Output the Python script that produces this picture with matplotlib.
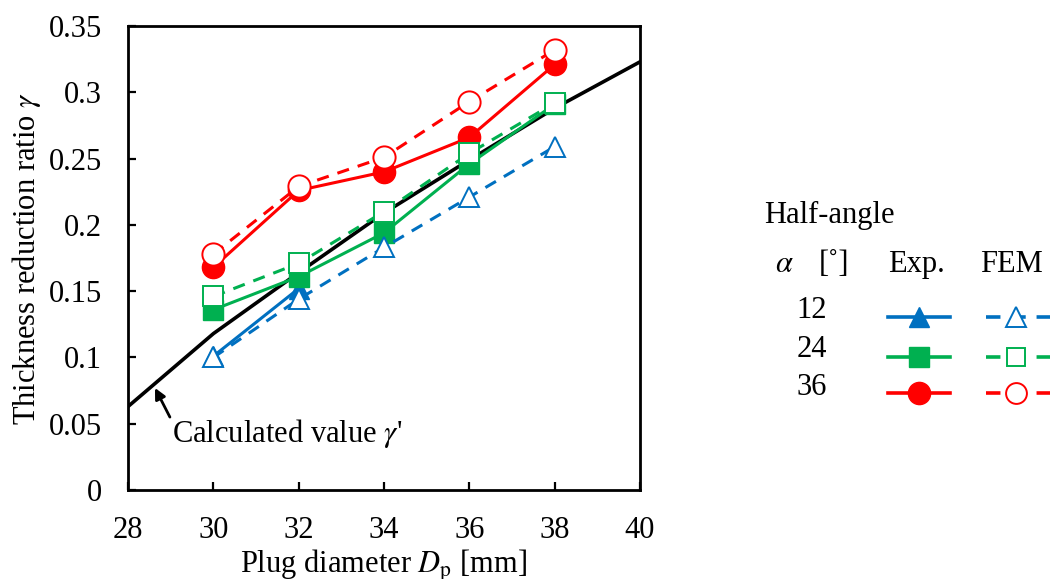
import numpy as np
import matplotlib
import matplotlib.pyplot as plt
from matplotlib.lines import Line2D

matplotlib.use('Agg')

plt.rcParams['font.family'] = ['Liberation Serif', 'DejaVu Serif']
plt.rcParams['mathtext.fontset'] = 'stix'

# plug diameter [mm]
dp = [30, 32, 34, 36, 38]

# experiment
exp_12 = [0.101, 0.152, np.nan, np.nan, np.nan]
exp_24 = [0.136, 0.161, 0.194, 0.246, 0.291]
exp_36 = [0.168, 0.226, 0.240, 0.266, 0.321]

# FEM
fem_12 = [0.100, 0.144, 0.183, 0.221, 0.259]
fem_24 = [0.146, 0.171, 0.210, 0.254, 0.292]
fem_36 = [0.178, 0.229, 0.251, 0.293, 0.332]

# calculated value gamma'
calc_dp = [28, 30, 32, 34, 36, 38, 40]
calc_g = [0.063, 0.118, 0.164, 0.209, 0.249, 0.288, 0.323]

BLUE = '#0070C0'
GREEN = '#00B050'
RED = '#FF0000'
FS = 22

fig = plt.figure(figsize=(10.5, 5.79), dpi=100)
ax = fig.add_axes([0.122, 0.1537, 0.4875, 0.8013])

ax.plot(calc_dp, calc_g, color='black', lw=2.6, zorder=2)

series = [
    (exp_12, fem_12, BLUE, '^', 15),
    (exp_24, fem_24, GREEN, 's', 14),
    (exp_36, fem_36, RED, 'o', 16),
]
for exp, fem, col, mk, ms in series:
    ax.plot(dp, exp, color=col, lw=2.2, marker=mk, ms=ms, mfc=col, mec=col, zorder=3)
    ax.plot(dp, fem, color=col, lw=2.2, ls=(0, (4, 3)), marker=mk, ms=ms,
            mfc='white', mec=col, mew=1.4, zorder=4)

ax.set_xlim(28, 40)
ax.set_ylim(0, 0.35)
ax.set_xticks([28, 30, 32, 34, 36, 38, 40])
ax.set_yticks([0, 0.05, 0.1, 0.15, 0.2, 0.25, 0.3, 0.35])
ax.set_yticklabels(['0', '0.05', '0.1', '0.15', '0.2', '0.25', '0.3', '0.35'])
ax.tick_params(direction='in', length=6, width=1.6, labelsize=FS, pad=19)
for s in ax.spines.values():
    s.set_linewidth(2.0)

ax.set_xlabel(r'Plug diameter $D_\mathrm{p}$ [mm]', fontsize=FS, labelpad=2)
ax.set_ylabel(r'Thickness reduction ratio $\gamma$', fontsize=FS, labelpad=4)

ax.annotate('', xy=(28.63, 0.077), xytext=(28.98, 0.055),
            arrowprops=dict(arrowstyle='-|>', color='black', lw=2.0,
                            mutation_scale=16, shrinkA=0, shrinkB=0))
ax.text(29.03, 0.036, r"Calculated value $\gamma$'", fontsize=FS, ha='left', va='baseline')

# manual legend
W, H = 1050.0, 579.0


def fx(px):
    return px / W


def fy(py):
    return 1 - py / H


fig.text(fx(764), fy(223), 'Half-angle', fontsize=FS, va='baseline', ha='left')
fig.text(fx(775), fy(272), r'$\alpha$', fontsize=FS, va='baseline', ha='left')
fig.text(fx(819), fy(272), '[˚]', fontsize=FS, va='baseline', ha='left')
fig.text(fx(888), fy(272), 'Exp.', fontsize=FS, va='baseline', ha='left')
fig.text(fx(980), fy(272), 'FEM', fontsize=FS, va='baseline', ha='left')

labels = ['12', '24', '36']
label_y = [318, 357, 395]
rows_y = [317, 357, 393]
for lab, ly, yy, (exp, fem, col, mk, ms) in zip(labels, label_y, rows_y, series):
    fig.text(fx(812), fy(ly), lab, fontsize=FS, va='baseline', ha='center')
    fig.add_artist(Line2D([fx(888), fx(950)], [fy(yy), fy(yy)], color=col, lw=2.6,
                          transform=fig.transFigure))
    fig.add_artist(Line2D([fx(919)], [fy(yy)], marker=mk, ms=ms, mfc=col, mec=col,
                          transform=fig.transFigure))
    fig.add_artist(Line2D([fx(986), fx(1050)], [fy(yy), fy(yy)], color=col, lw=2.6,
                          ls=(0, (4, 3)), transform=fig.transFigure))
    fig.add_artist(Line2D([fx(1016)], [fy(yy)], marker=mk, ms=ms - 1, mfc='white', mec=col,
                          mew=1.4, transform=fig.transFigure))

fig.savefig('out.png', dpi=100)
